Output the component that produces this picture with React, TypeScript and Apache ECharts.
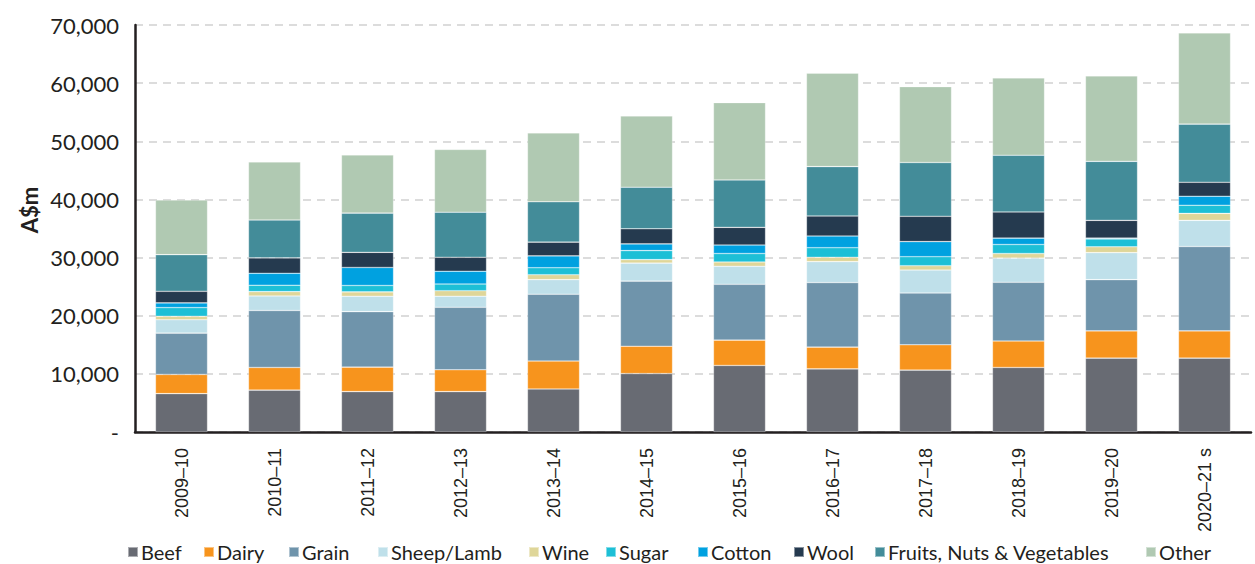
import React, { useEffect, useRef } from "react";
import * as echarts from "echarts";

const categories = ["2009–10", "2010–11", "2011–12", "2012–13", "2013–14", "2014–15", "2015–16", "2016–17", "2017–18", "2018–19", "2019–20", "2020–21 s"];

const beef = [6600, 7200, 6950, 6950, 7400, 10050, 11450, 10850, 10650, 11100, 12700, 12700];
const dairy = [3300, 3900, 4200, 3750, 4800, 4700, 4350, 3750, 4350, 4550, 4700, 4700];
const grain = [7100, 9800, 9550, 10750, 11500, 11200, 9600, 11100, 8900, 10100, 8800, 14500];
const sheepLamb = [2300, 2500, 2650, 1900, 2500, 3100, 3100, 3600, 3950, 4150, 4650, 4500];
const wine = [600, 750, 750, 950, 850, 600, 750, 750, 750, 800, 1000, 1200];
const sugar = [1500, 1100, 1100, 1150, 1200, 1550, 1450, 1650, 1550, 1550, 1350, 1400];
const cotton = [800, 2050, 3100, 2200, 2050, 1150, 1450, 2000, 2600, 1100, 150, 1550];
const wool = [2000, 2650, 2600, 2400, 2350, 2600, 3050, 3450, 4350, 4500, 3050, 2400];
const fruitsNutsVeg = [6300, 6500, 6750, 7750, 6950, 7150, 8150, 8500, 9250, 9750, 10150, 10000];
const other = [9400, 10000, 10000, 10800, 11850, 12250, 13300, 16050, 13050, 13300, 14700, 15700];

const yTicks = { min: 0, max: 70000, interval: 10000 };

const seriesDefs = [
  { name: "Beef", data: beef, color: "#686b73" },
  { name: "Dairy", data: dairy, color: "#f7941d" },
  { name: "Grain", data: grain, color: "#6f94ab" },
  { name: "Sheep/Lamb", data: sheepLamb, color: "#bfe0ea" },
  { name: "Wine", data: wine, color: "#dfd699" },
  { name: "Sugar", data: sugar, color: "#1dbfd6" },
  { name: "Cotton", data: cotton, color: "#00a1e0" },
  { name: "Wool", data: wool, color: "#253a4f" },
  { name: "Fruits, Nuts & Vegetables", data: fruitsNutsVeg, color: "#438c99" },
  { name: "Other", data: other, color: "#b0c9b2" },
];

// legend item left edges (px)
const legendLefts = [127, 203, 288, 377, 528, 605, 697, 793, 874, 1145];

const FONT = "Lato";
const TEXT = "#231f20";

export default function App() {
  const ref = useRef<HTMLDivElement>(null);
  useEffect(() => {
    if (!ref.current) return;
    const chart = echarts.init(ref.current, null, { renderer: "svg" });
    chart.setOption({
      animation: false,
      textStyle: { fontFamily: FONT },
      grid: { left: 135, right: 4, top: 25, bottom: 132, containLabel: false },
      legend: seriesDefs.map((s, i) => ({
        left: legendLefts[i],
        top: 542,
        padding: 0,
        itemWidth: 10,
        itemHeight: 10,
        icon: "rect",
        textStyle: { fontFamily: FONT, fontSize: 20, color: TEXT, padding: [0, 0, 0, -2] },
        data: [s.name],
      })),
      graphic: [
        {
          type: "text",
          x: 29,
          y: 210,
          rotation: Math.PI / 2,
          style: {
            text: "A$m",
            fontSize: 22,
            fontWeight: "bold",
            fill: TEXT,
            fontFamily: FONT,
            align: "center",
            verticalAlign: "middle",
          },
        },
      ],
      xAxis: {
        type: "category",
        data: categories,
        axisLine: { lineStyle: { color: TEXT, width: 2.5 } },
        axisTick: { show: false },
        axisLabel: { rotate: 90, fontSize: 18, color: TEXT, fontFamily: "Liberation Sans", margin: 16 },
      },
      yAxis: {
        type: "value",
        min: yTicks.min,
        max: yTicks.max,
        interval: yTicks.interval,
        axisLine: { show: true, lineStyle: { color: TEXT, width: 2.5 } },
        axisTick: { show: false },
        axisLabel: {
          fontSize: 22,
          color: TEXT,
          fontFamily: FONT,
          margin: 16,
          formatter: (v: number) => (v === 0 ? "-" : v.toLocaleString("en-US")),
        },
        splitLine: { show: true, lineStyle: { color: "#dcdcdc", type: [8, 6], width: 2 } },
      },
      series: seriesDefs.map((s) => ({
        name: s.name,
        type: "bar",
        stack: "total",
        data: s.data,
        barWidth: "56%",
        itemStyle: { color: s.color, borderColor: "rgba(255,255,255,0.45)", borderWidth: 0.6 },
      })),
    });
    return () => chart.dispose();
  }, []);
  return <div ref={ref} style={{ position: "absolute", left: 0, top: 0, width: 1255, height: 564 }} />;
}
